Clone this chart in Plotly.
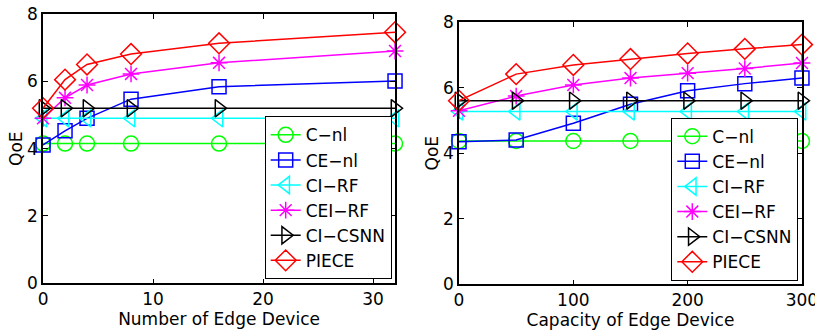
import plotly.graph_objects as go

# ---- data ----
series_names = ["C\u2212nl", "CE\u2212nl", "CI\u2212RF", "CEI\u2212RF", "CI\u2212CSNN", "PIECE"]

num_devices = [0, 2, 4, 8, 16, 32]
left_c_nl = [4.15, 4.15, 4.15, 4.15, 4.15, 4.15]
left_ce_nl = [4.11, 4.53, 4.90, 5.47, 5.84, 6.01]
left_ci_rf = [4.90, 4.90, 4.90, 4.90, 4.90, 4.90]
left_cei_rf = [4.90, 5.51, 5.89, 6.22, 6.55, 6.90]
left_ci_csnn = [5.20, 5.20, 5.20, 5.20, 5.20, 5.20]
left_piece = [5.20, 6.05, 6.50, 6.81, 7.13, 7.46]

capacity = [0, 50, 100, 150, 200, 250, 300]
right_c_nl = [4.37, 4.37, 4.37, 4.37, 4.37, 4.37, 4.37]
right_ce_nl = [4.35, 4.40, 4.91, 5.49, 5.90, 6.12, 6.29]
right_ci_rf = [5.27, 5.27, 5.27, 5.27, 5.27, 5.27, 5.27]
right_cei_rf = [5.29, 5.74, 6.08, 6.29, 6.44, 6.58, 6.75]
right_ci_csnn = [5.60, 5.60, 5.60, 5.60, 5.60, 5.60, 5.60]
right_piece = [5.60, 6.41, 6.69, 6.87, 7.04, 7.18, 7.31]

x_ticks_left = [0, 10, 20, 30]
x_ticks_right = [0, 100, 200, 300]
y_ticks = [0, 2, 4, 6, 8]

# ---- styles ----
colors = ["#00ff00", "#0000ff", "#00ffff", "#ff00ff", "#000000", "#ff0000"]
symbols = ["circle-open", "square-open", "triangle-left-open", "asterisk-open",
           "triangle-right-open", "diamond-open"]
sizes = [15, 14, 15, 14, 15, 16]

FONT = "DejaVu Sans, Liberation Sans, Arial, sans-serif"

fig = go.Figure()

left_data = [left_c_nl, left_ce_nl, left_ci_rf, left_cei_rf, left_ci_csnn, left_piece]
right_data = [right_c_nl, right_ce_nl, right_ci_rf, right_cei_rf, right_ci_csnn, right_piece]

for i, name in enumerate(series_names):
    fig.add_trace(go.Scatter(
        x=num_devices, y=left_data[i], name=name, mode="lines+markers",
        line=dict(color=colors[i], width=1.5),
        marker=dict(symbol=symbols[i], size=sizes[i], color=colors[i],
                    line=dict(color=colors[i], width=1.5)),
        xaxis="x", yaxis="y", legend="legend", cliponaxis=False))
for i, name in enumerate(series_names):
    fig.add_trace(go.Scatter(
        x=capacity, y=right_data[i], name=name, mode="lines+markers",
        line=dict(color=colors[i], width=1.5),
        marker=dict(symbol=symbols[i], size=sizes[i], color=colors[i],
                    line=dict(color=colors[i], width=1.5)),
        xaxis="x2", yaxis="y2", legend="legend2", cliponaxis=False))

axis_common = dict(
    showline=True, linecolor="black", linewidth=1.5, mirror="allticks",
    ticks="inside", ticklen=5, tickwidth=1, tickcolor="black",
    showgrid=False, zeroline=False, automargin=False,
    ticklabeloverflow="allow",
    tickfont=dict(family=FONT, size=17, color="black"),
)

fig.update_layout(
    width=815, height=333,
    margin=dict(l=0, r=0, t=0, b=0, autoexpand=False),
    paper_bgcolor="white", plot_bgcolor="white",
    font=dict(family=FONT, size=17, color="black"),
    xaxis=dict(domain=[0.0528, 0.4847], range=[0, 32], tickvals=x_ticks_left,
               anchor="y", title=dict(text="Number of Edge Device", standoff=0,
                                      font=dict(family=FONT, size=17)),
               **axis_common),
    yaxis=dict(domain=[0.1493, 0.958], range=[0, 8], tickvals=y_ticks,
               anchor="x", title=dict(text="QoE", standoff=0,
                                      font=dict(family=FONT, size=17)),
               **axis_common),
    xaxis2=dict(domain=[0.5632, 0.984], range=[0, 300], tickvals=x_ticks_right,
                anchor="y2", title=dict(text="Capacity of Edge Device", standoff=0,
                                        font=dict(family=FONT, size=17)),
                **axis_common),
    yaxis2=dict(domain=[0.1462, 0.934], range=[0, 8], tickvals=y_ticks,
                anchor="x2", title=dict(text="QoE", standoff=0,
                                        font=dict(family=FONT, size=17)),
                **axis_common),
    legend=dict(x=0.4806, y=0.1613, xanchor="right", yanchor="bottom",
                bgcolor="white", bordercolor="black", borderwidth=1,
                font=dict(family=FONT, size=17), tracegroupgap=0,
                itemwidth=30),
    legend2=dict(x=0.9795, y=0.157, xanchor="right", yanchor="bottom",
                 bgcolor="white", bordercolor="black", borderwidth=1,
                 font=dict(family=FONT, size=17), tracegroupgap=0,
                 itemwidth=30),
    showlegend=True,
)

fig.write_html(
    "out.html",
    config={"displayModeBar": False},
    post_script="document.body.style.margin='0px';document.body.style.overflow='hidden';",
)
